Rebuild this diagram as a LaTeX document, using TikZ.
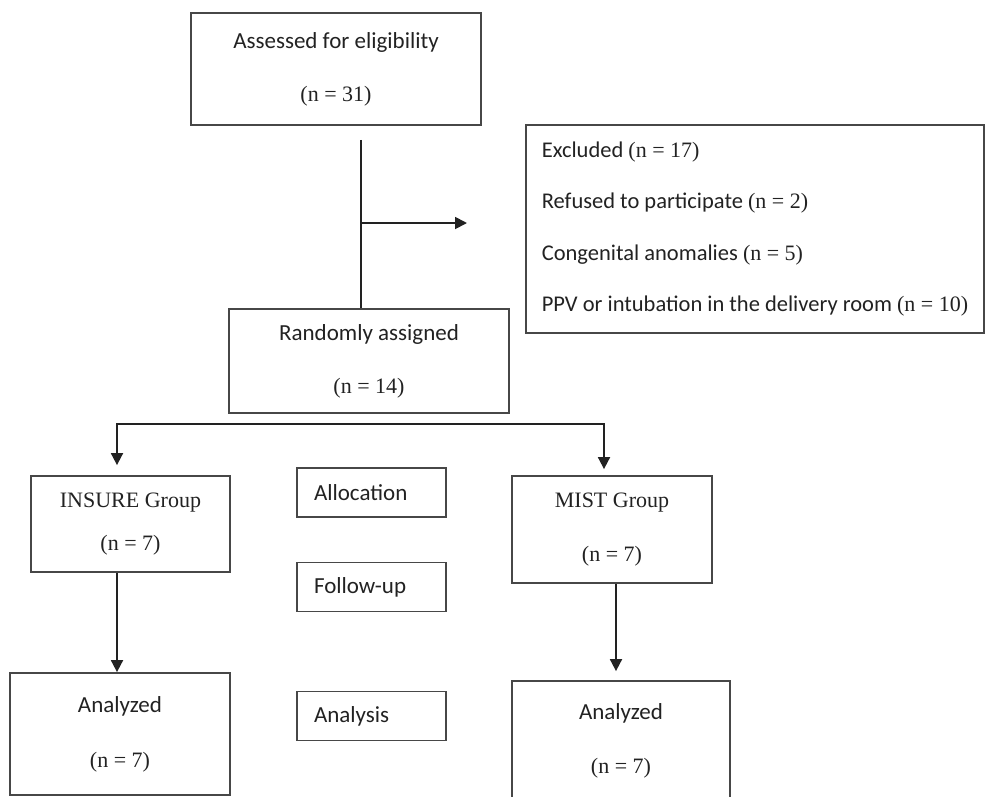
\documentclass[tikz,border=0pt]{standalone}
\usepackage{fontspec}
\setmainfont{Carlito}
\newfontfamily\numfont{Liberation Serif}
\usepackage{tikz}
\usetikzlibrary{positioning}
\usetikzlibrary{arrows.meta}
\definecolor{boxgray}{HTML}{474747}
\definecolor{inkblack}{HTML}{222222}
\newcommand{\serifline}[1]{{\numfont\fontsize{22}{26}\selectfont #1}}
\newcommand{\ncount}[1]{\serifline{(n = #1)}}
\tikzstyle{flowbox} = [rectangle, draw=boxgray, line width=1.8pt, text=inkblack, align=center, inner sep=0pt, font=\fontsize{23}{27}\selectfont]
\tikzstyle{stagebox} = [rectangle, draw=boxgray, line width=1.8pt, text=inkblack, minimum width=149pt, minimum height=49pt, text width=115pt, inner xsep=17pt, align=left, font=\fontsize{23}{27}\selectfont]
\tikzstyle{listbox} = [rectangle, draw=boxgray, line width=1.8pt, text=inkblack, minimum width=458pt, minimum height=208pt, align=left, font=\fontsize{22.5}{51.3}\selectfont]
\tikzstyle{connector} = [line width=1.8pt, draw=inkblack]
\tikzstyle{arrow} = [line width=1.8pt, draw=inkblack, -{Triangle[length=12pt,width=12pt]}]

\begin{document}
\begin{tikzpicture}[x=1pt, y=1pt]

\useasboundingbox (0,0) rectangle (987,-796);


% Enrolment

	\node (assessed) [flowbox, minimum width=290pt, minimum height=112pt] at (336,-69) {Assessed for eligibility\\[26pt]\ncount{31}};

	\node (excludedList) [listbox, right of=assessed, node distance=419pt, yshift=-160pt] {Excluded \ncount{17}\\Refused to participate \ncount{2}\\Congenital anomalies \ncount{5}\\PPV or intubation in the delivery room \ncount{10}};

	\node (randomAssign) [flowbox, minimum width=280pt, minimum height=104pt, below of=assessed, node distance=292pt, xshift=33pt] {Randomly assigned\\[26pt]\ncount{14}};


% Groups

	\node (insureGroup) [flowbox, minimum width=199pt, minimum height=96pt, below of=randomAssign, node distance=163pt, xshift=-238.5pt] {\serifline{INSURE Group}\\[16pt]\ncount{7}};

	\node (mistGroup) [flowbox, minimum width=200pt, minimum height=107pt, below of=randomAssign, node distance=168.5pt, xshift=243pt] {\serifline{MIST Group}\\[27pt]\ncount{7}};


% Stage labels

	\node (allocStage) [stagebox, below of=randomAssign, node distance=131.5pt, xshift=2.5pt] {Allocation};

	\node (followStage) [stagebox, below of=allocStage, node distance=94.5pt] {Follow-up};

	\node (analysisStage) [stagebox, below of=followStage, node distance=129pt] {Analysis};


% Analysed

	\node (insureAnalyzed) [flowbox, minimum width=220pt, minimum height=122pt, below of=insureGroup, node distance=210pt, xshift=-10.5pt] {Analyzed\\[28pt]\ncount{7}};

	\node (mistAnalyzed) [flowbox, minimum width=218pt, minimum height=119pt, below of=mistGroup, node distance=211pt, xshift=9pt] {Analyzed\\[27pt]\ncount{7}};




% Eligibility trunk and exclusions
	\coordinate (trunkTop) at ([xshift=25pt,yshift=-14pt]assessed.south);
	\coordinate (exclTip) at (467,-223);
	\draw [connector] (trunkTop) -- (trunkTop |- randomAssign.north);
	\draw [arrow] (trunkTop |- exclTip) -- (exclTip);


% Split into the two groups
	\coordinate (branchMid) at ([yshift=-10pt]randomAssign.south);
	\draw [arrow] (branchMid) -| ([xshift=-13.5pt,yshift=10pt]insureGroup.north);
	\draw [arrow] (branchMid) -| ([xshift=-8pt,yshift=6pt]mistGroup.north);


% Groups to analysis
	\coordinate (insureDrop) at ([xshift=-13.5pt]insureGroup.south);
	\draw [arrow] (insureDrop) -- (insureDrop |- insureAnalyzed.north);

	\coordinate (mistDrop) at ([xshift=4pt]mistGroup.south);
	\coordinate (mistTip) at ([yshift=9pt]mistAnalyzed.north);
	\draw [arrow] (mistDrop) -- (mistDrop |- mistTip);


\end{tikzpicture}
\end{document}
